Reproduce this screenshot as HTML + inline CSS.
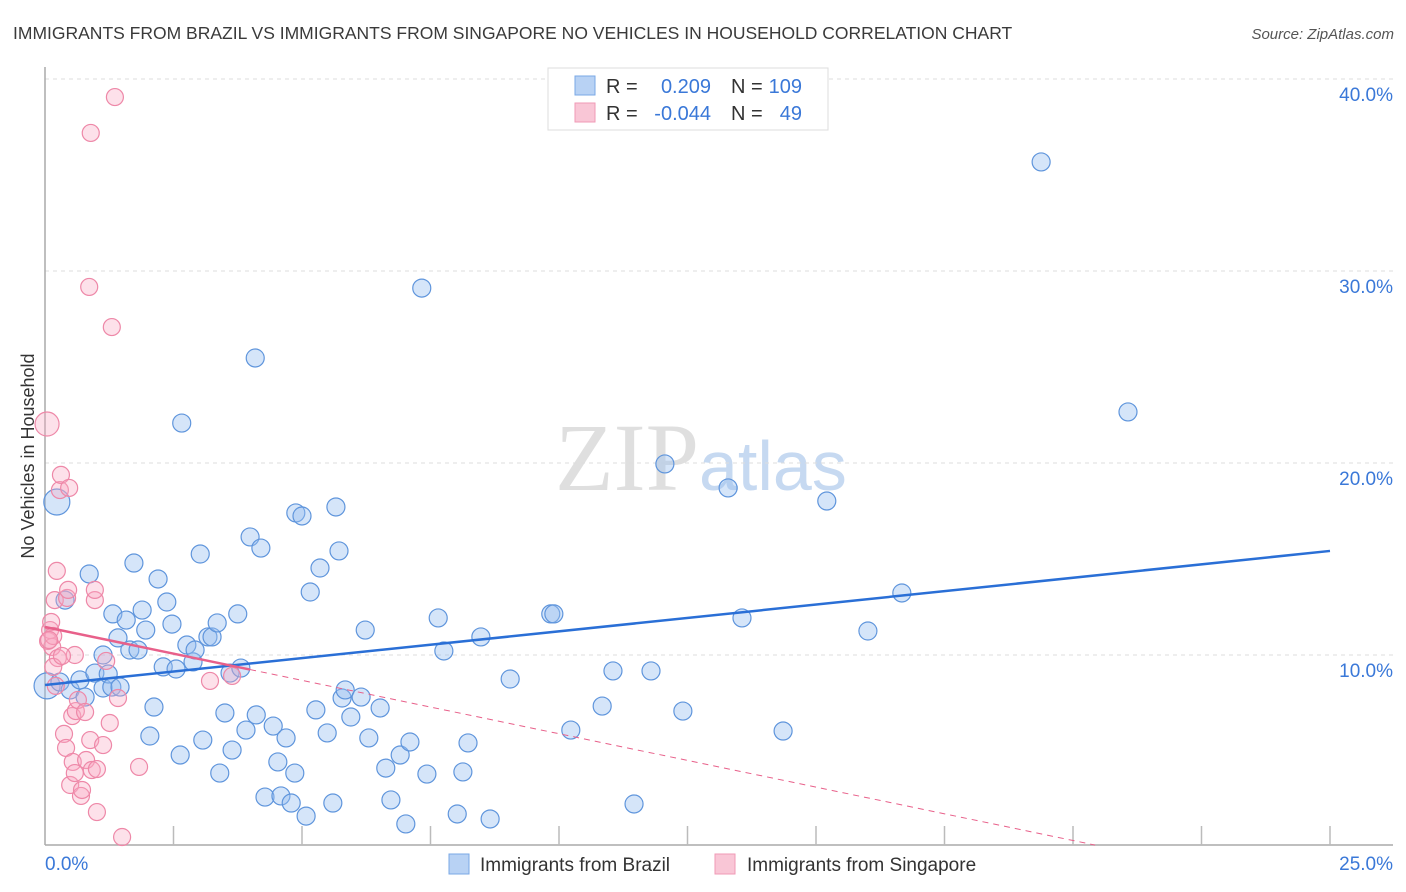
<!DOCTYPE html>
<html><head><meta charset="utf-8"><style>
body{margin:0;background:#fff;font-family:"Liberation Sans",sans-serif}
</style></head><body>
<svg id="chart" width="1406" height="892" xmlns="http://www.w3.org/2000/svg" style="display:block;font-family:'Liberation Sans',sans-serif">
<text x="13" y="39" font-size="17.5" fill="#3a3a3a">IMMIGRANTS FROM BRAZIL VS IMMIGRANTS FROM SINGAPORE NO VEHICLES IN HOUSEHOLD CORRELATION CHART</text>
<text x="1394" y="39" font-size="15" fill="#555" font-style="italic" text-anchor="end">Source: ZipAtlas.com</text>
<text x="555" y="490" font-size="96" font-family="'Liberation Serif',serif" fill="#d8d8d8" opacity="0.8">ZIP<tspan fill="#b8d0ee" font-family="'Liberation Sans',sans-serif" font-size="70">atlas</tspan></text>
<text transform="translate(34,456) rotate(-90)" font-size="18" fill="#333" text-anchor="middle">No Vehicles in Household</text>
<g id="grid"></g>
<g id="axes"></g>
<g id="pts"></g>
<g id="trend"></g>
<g>
<rect x="548" y="68" width="280" height="62" fill="#fff" stroke="#ddd"/>
<rect x="575" y="76" width="20" height="19" fill="#b8d2f4" stroke="#7aa8e6"/>
<rect x="575" y="103" width="20" height="19" fill="#f9c6d6" stroke="#f09ab6"/>
<text x="606" y="93" font-size="20" fill="#333">R =</text>
<text x="711" y="93" font-size="20" fill="#3a78d8" text-anchor="end">0.209</text>
<text x="731" y="93" font-size="20" fill="#333">N =</text>
<text x="802" y="93" font-size="20" fill="#3a78d8" text-anchor="end">109</text>
<text x="606" y="120" font-size="20" fill="#333">R =</text>
<text x="711" y="120" font-size="20" fill="#3a78d8" text-anchor="end">-0.044</text>
<text x="731" y="120" font-size="20" fill="#333">N =</text>
<text x="802" y="120" font-size="20" fill="#3a78d8" text-anchor="end">49</text>
</g>
<g>
<rect x="449" y="854" width="20" height="20" fill="#b8d2f4" stroke="#7aa8e6"/>
<text x="480" y="871" font-size="19" fill="#333">Immigrants from Brazil</text>
<rect x="715" y="854" width="20" height="20" fill="#f9c6d6" stroke="#f09ab6"/>
<text x="747" y="871" font-size="19" fill="#333">Immigrants from Singapore</text>
</g>
</svg>
<script>
const yTicks=[10,20,30,40];
const yTickLabels=["10.0%","20.0%","30.0%","40.0%"];
const xTickCount=10;
const xMax=25;
const brazilX=[0.04,0.23,0.29,0.39,0.49,0.68,0.78,0.86,0.97,1.13,1.13,1.23,1.30,1.32,1.42,1.46,1.58,1.65,1.73,1.81,1.89,1.96,2.12,2.04,2.20,2.30,2.37,2.47,2.55,2.63,2.66,2.76,2.88,2.92,3.02,3.07,3.17,3.25,3.35,3.40,3.50,3.60,3.64,3.75,3.81,3.91,3.99,4.09,4.11,4.20,4.28,4.44,4.53,4.59,4.69,4.79,4.86,4.88,5.0,5.08,5.16,5.27,5.35,5.49,5.60,5.66,5.72,5.78,5.84,5.95,6.15,6.23,6.30,6.52,6.63,6.73,6.91,7.02,7.10,7.33,7.43,7.65,7.76,8.02,8.13,8.23,8.48,8.66,9.05,9.84,9.90,10.23,10.84,11.05,11.46,11.79,12.06,12.41,13.29,13.56,14.36,15.21,16.01,16.67,19.38,21.07];
const brazilY=[8.39,17.97,8.59,12.86,8.18,8.70,7.81,14.22,9.06,10.0,8.28,9.01,8.33,12.14,10.89,8.33,11.82,10.26,14.79,10.26,12.34,11.30,7.29,5.78,13.96,9.38,12.76,11.61,9.27,4.79,22.08,10.52,9.64,10.26,15.26,5.57,10.94,10.94,11.67,3.85,6.98,9.06,5.05,12.14,9.32,6.09,16.15,25.47,6.88,15.57,2.60,6.30,4.43,2.66,5.68,2.29,3.85,17.40,17.24,1.61,13.28,7.14,14.53,5.94,2.29,17.71,15.42,7.76,8.18,6.77,7.81,11.30,5.68,7.24,4.11,2.45,4.79,1.20,5.47,29.11,3.80,11.93,10.21,1.72,3.91,5.42,10.94,1.46,8.75,12.14,12.14,6.09,7.34,9.17,2.24,9.17,19.95,7.08,18.70,11.93,6.04,18.02,11.25,13.23,35.68,22.66];
const singX=[0.04,0.06,0.10,0.14,0.12,0.16,0.19,0.23,0.25,0.29,0.31,0.37,0.41,0.43,0.47,0.45,0.49,0.53,0.54,0.58,0.58,0.60,0.64,0.70,0.72,0.78,0.80,0.86,0.88,0.89,0.91,0.97,1.01,1.01,1.13,1.19,1.26,1.30,1.36,1.42,1.50,1.83,3.21,3.64,0.16,0.08,0.21,0.33,0.97];
const singY=[22.03,10.73,11.30,10.42,11.72,10.99,12.86,14.38,9.84,18.59,19.38,5.89,5.16,12.97,18.70,13.39,3.23,6.82,4.43,10.0,3.85,7.08,7.66,2.66,2.97,7.03,4.53,29.17,5.57,37.19,4.01,12.86,4.06,1.82,5.31,9.69,6.46,27.08,39.06,7.76,0.52,4.17,8.65,8.91,9.38,10.78,8.39,9.95,13.39];
const brazilTrend=[8.44,15.42];
const singTrend=[11.46,0.1];
const singTrendEndX=20.43;
const singSolidEndX=3.99;

const NS="http://www.w3.org/2000/svg";
const X0=45,X1=1330,Y0=847,PY=19.2;
const sx=v=>X0+v/xMax*(X1-X0);
const sy=v=>Y0-v*PY;
function mk(tag,attrs,parent){const e=document.createElementNS(NS,tag);for(const k in attrs)e.setAttribute(k,attrs[k]);document.getElementById(parent).appendChild(e);return e;}

yTicks.forEach((t,i)=>{
 const g=mk('line',{x1:X0,x2:1393,y1:sy(t),y2:sy(t),stroke:'#ddd','stroke-dasharray':'4,4'},'grid');
 
 
 const l=mk('text',{x:1393,y:sy(t)+22,'font-size':19,fill:'#3a78d8','text-anchor':'end'},'grid');
 l.textContent=yTickLabels[i];
 
 
});
const ya=mk('line',{x1:X0,x2:X0,y1:67,y2:845,stroke:'#aaa','stroke-width':1.5},'axes');


const xa=mk('line',{x1:X0,x2:1393,y1:845,y2:845,stroke:'#aaa','stroke-width':1.5},'axes');


for(let i=1;i<=xTickCount;i++){
 const x=sx(xMax*i/xTickCount);
 const t=mk('line',{x1:x,x2:x,y1:826,y2:845,stroke:'#bbb','stroke-width':1.5},'axes');
 
 
}
const xl0=mk('text',{x:45,y:870,'font-size':19,fill:'#3a78d8'},'axes');xl0.textContent='0.0%';


const xl1=mk('text',{x:1393,y:870,'font-size':19,fill:'#3a78d8','text-anchor':'end'},'axes');xl1.textContent='25.0%';



brazilX.forEach((v,i)=>{
 const r=(i<2)?13:9;
 const c=mk('circle',{cx:sx(v),cy:sy(brazilY[i]),r:r,fill:'rgba(150,190,240,0.4)',stroke:'#5f95dc','stroke-width':1.2},'pts');
 
 
});
singX.forEach((v,i)=>{
 const r=(i<1)?12:8.5;
 const c=mk('circle',{cx:sx(v),cy:sy(singY[i]),r:r,fill:'rgba(248,170,195,0.35)',stroke:'#ee88a8','stroke-width':1.2},'pts');
 
 
});
const bt=mk('line',{x1:sx(0),y1:sy(brazilTrend[0]),x2:sx(xMax),y2:sy(brazilTrend[1]),stroke:'#2a6fd6','stroke-width':2.5},'trend');


const sAt=x=>singTrend[0]+(singTrend[1]-singTrend[0])*x/singTrendEndX;
const st=mk('line',{x1:sx(0),y1:sy(singTrend[0]),x2:sx(singSolidEndX),y2:sy(sAt(singSolidEndX)),stroke:'#e8608a','stroke-width':2.5},'trend');


const sd=mk('line',{x1:sx(singSolidEndX),y1:sy(sAt(singSolidEndX)),x2:sx(singTrendEndX),y2:sy(singTrend[1]),stroke:'#e8608a','stroke-width':1,'stroke-dasharray':'6,5'},'trend');


</script>
</body></html>
